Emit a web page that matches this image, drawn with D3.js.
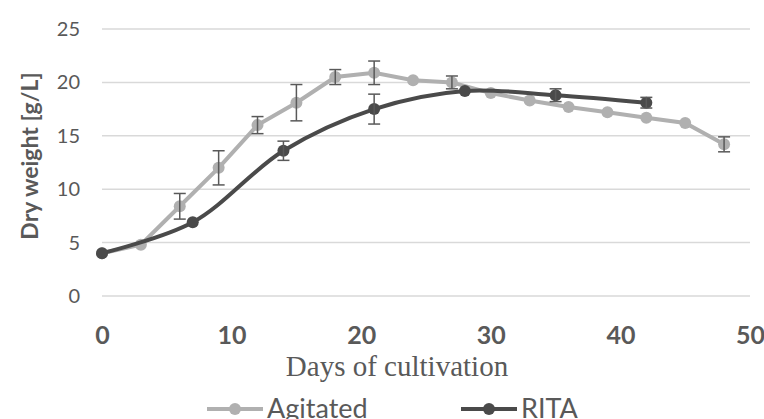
<!DOCTYPE html>
<html>
<head>
<meta charset="utf-8">
<script src="https://cdn.jsdelivr.net/npm/d3@7"></script>
<style>
  body { margin: 0; background: #fff; }
</style>
</head>
<body>
<div class="chart"></div>
<script>
var svgWidth = 764;
var svgHeight = 419;

// data
var agitatedDays = [0, 3, 6, 9, 12, 15, 18, 21, 24, 27, 30, 33, 36, 39, 42, 45, 48];
var agitatedWeight = [4.0, 4.8, 8.4, 12.0, 16.0, 18.1, 20.5, 20.9, 20.2, 20.0, 19.0, 18.3, 17.7, 17.2, 16.7, 16.2, 14.2];
var agitatedErr = [0, 0, 1.2, 1.6, 0.8, 1.7, 0.7, 1.1, 0, 0.6, 0, 0, 0, 0, 0, 0, 0.7];

var ritaDays = [0, 7, 14, 21, 28, 35, 42];
var ritaWeight = [4.0, 6.9, 13.6, 17.5, 19.2, 18.8, 18.1];
var ritaErr = [0, 0, 0.9, 1.4, 0, 0.6, 0.5];

var xTicks = [0, 10, 20, 30, 40, 50];
var yTicks = [0, 5, 10, 15, 20, 25];

var svg = d3.select(".chart")
  .append("svg")
  .attr("width", svgWidth)
  .attr("height", svgHeight);

var x_scale = d3.scaleLinear().domain([0, 50]).range([102, 750]);
var y_scale = d3.scaleLinear().domain([0, 25]).range([296, 29]);

// gridlines
svg.append("g")
  .selectAll("line")
  .data(yTicks)
  .enter()
  .append("line")
  .attr("x1", x_scale(0))
  .attr("x2", x_scale(50))
  .attr("y1", d => y_scale(d))
  .attr("y2", d => y_scale(d))
  .attr("stroke", "#d9d9d9")
  .attr("stroke-width", 1.5);

// y axis labels
var leftAxis = d3.axisLeft(y_scale).tickValues(yTicks).tickSize(0).tickPadding(22);
var yAxis = svg.append("g")
  .attr("transform", `translate(${x_scale(0)}, 0)`)
  .call(leftAxis);
yAxis.select(".domain").remove();
yAxis.selectAll("text")
  .attr("fill", "#595959")
  .style("font-family", "Lato, sans-serif")
  .style("font-size", "20px");

// x axis labels
var bottomAxis = d3.axisBottom(x_scale).tickValues(xTicks).tickSize(0).tickPadding(30);
var xAxis = svg.append("g")
  .attr("transform", `translate(0, ${y_scale(0)})`)
  .call(bottomAxis);
xAxis.select(".domain").remove();
xAxis.selectAll("text")
  .attr("fill", "#595959")
  .style("font-family", "Lato, sans-serif")
  .style("font-weight", "bold")
  .style("font-size", "25px");

// axis titles
svg.append("text")
  .attr("transform", "translate(38, 156) rotate(-90)")
  .attr("text-anchor", "middle")
  .attr("fill", "#595959")
  .style("font-family", "Lato, sans-serif")
  .style("font-weight", "bold")
  .style("font-size", "23px")
  .text("Dry weight [g/L]");

svg.append("text")
  .attr("x", 397)
  .attr("y", 376)
  .attr("text-anchor", "middle")
  .attr("fill", "#595959")
  .style("font-family", "'Liberation Serif', 'Times New Roman', serif")
  .style("font-size", "29px")
  .text("Days of cultivation");

function drawSeries(days, weight, err, color, curve) {
  var pts = days.map((d, i) => ({ x: d, y: weight[i], e: err[i] }));
  var line = d3.line()
    .x(d => x_scale(d.x))
    .y(d => y_scale(d.y))
    .curve(curve);
  svg.append("path")
    .datum(pts)
    .attr("d", line)
    .attr("fill", "none")
    .attr("stroke", color)
    .attr("stroke-width", 4);
  svg.append("g")
    .selectAll("circle")
    .data(pts)
    .enter()
    .append("circle")
    .attr("cx", d => x_scale(d.x))
    .attr("cy", d => y_scale(d.y))
    .attr("r", 6)
    .attr("fill", color);
  var bars = svg.append("g")
    .selectAll("g")
    .data(pts.filter(d => d.e > 0))
    .enter()
    .append("g")
    .attr("stroke", "#595959")
    .attr("stroke-width", 1.5);
  bars.append("line")
    .attr("x1", d => x_scale(d.x)).attr("x2", d => x_scale(d.x))
    .attr("y1", d => y_scale(d.y - d.e)).attr("y2", d => y_scale(d.y + d.e));
  bars.append("line")
    .attr("x1", d => x_scale(d.x) - 6).attr("x2", d => x_scale(d.x) + 6)
    .attr("y1", d => y_scale(d.y - d.e)).attr("y2", d => y_scale(d.y - d.e));
  bars.append("line")
    .attr("x1", d => x_scale(d.x) - 6).attr("x2", d => x_scale(d.x) + 6)
    .attr("y1", d => y_scale(d.y + d.e)).attr("y2", d => y_scale(d.y + d.e));
}

drawSeries(agitatedDays, agitatedWeight, agitatedErr, "#b0b0b0", d3.curveLinear);
drawSeries(ritaDays, ritaWeight, ritaErr, "#4a4a4a", d3.curveCatmullRom.alpha(0.5));

// legend
var legendItems = [
  { name: "Agitated", color: "#b0b0b0", x: 207 },
  { name: "RITA", color: "#4a4a4a", x: 461 }
];
var legend = svg.append("g")
  .selectAll("g")
  .data(legendItems)
  .enter()
  .append("g")
  .attr("transform", d => `translate(${d.x}, 409)`);
legend.append("line")
  .attr("x1", 0).attr("x2", 56)
  .attr("stroke", d => d.color)
  .attr("stroke-width", 4);
legend.append("circle")
  .attr("cx", 28).attr("r", 6)
  .attr("fill", d => d.color);
legend.append("text")
  .attr("x", 60)
  .attr("y", 9)
  .attr("fill", "#595959")
  .style("font-family", "Lato, sans-serif")
  .style("font-size", "27px")
  .text(d => d.name);
</script>
</body>
</html>
